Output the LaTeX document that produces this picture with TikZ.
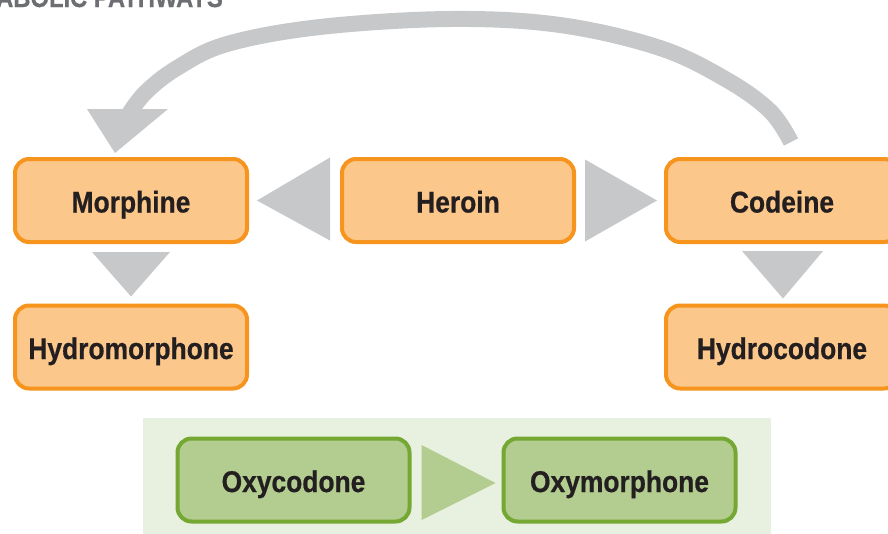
\documentclass[tikz,border=0pt]{standalone}
\usepackage{fontspec}
\setmainfont{Liberation Sans}[FakeStretch=0.88, BoldFeatures={FakeBold=0.6}]
\usetikzlibrary{calc}
\definecolor{orfill}{HTML}{FBC78A}
\definecolor{ordraw}{HTML}{F7941D}
\definecolor{grfill}{HTML}{B3CC8F}
\definecolor{grdraw}{HTML}{75A833}
\definecolor{grbg}{HTML}{E8F0DF}
\definecolor{arrowgrey}{HTML}{C7C8CA}
\definecolor{txt}{HTML}{231F20}
\definecolor{titlegrey}{HTML}{6D6E71}
\begin{document}
\begin{tikzpicture}[x=1pt,y=-1pt,
  box/.style={rectangle, rounded corners=14pt, line width=4pt, minimum width=232pt, minimum height=83pt,
    font=\fontsize{30}{34}\selectfont\bfseries, text=txt, inner sep=0pt, text height=24pt, text depth=0pt},
  orbox/.style={box, draw=ordraw, fill=orfill},
  grbox/.style={box, draw=grdraw, fill=grfill},
  tri/.style={fill=arrowgrey},
  gtri/.style={fill=grfill}]
\useasboundingbox (0,0) rectangle (888,533);
\clip (0,0) rectangle (888,533);
\fill[white] (0,0) rectangle (888,533);
% title (cut off at the top, as in the reference)
\node[anchor=base west, text=titlegrey, font=\fontsize{27}{30}\selectfont\bfseries, inner sep=0pt] (title) at (-4,7) {ABOLIC PATHWAYS};
% green background
\fill[grbg] (143,418) rectangle (771,540);
% boxes
\node[orbox] (morphine) at (131,200.5) {Morphine};
\node[orbox] (heroin) at (458,200.5) {Heroin};
\node[orbox] (codeine) at (782,200.5) {Codeine};
\node[orbox] (hydromorphone) at (131,347) {Hydromorphone};
\node[orbox] (hydrocodone) at (782,347) {Hydrocodone};
\node[grbox] (oxycodone) at (293.5,480) {Oxycodone};
\node[grbox] (oxymorphone) at (619.5,480) {Oxymorphone};
% triangle connectors
\fill[tri] ($(heroin.west)+(-10,-43)$) -- ($(heroin.west)+(-10,40)$) -- ($(morphine.east)+(8,0)$) -- cycle;
\fill[tri] ($(heroin.east)+(9,-41)$) -- ($(heroin.east)+(9,41)$) -- ($(codeine.west)+(-7,0)$) -- cycle;
\fill[tri] ($(morphine.south)+(-39,8)$) -- ($(morphine.south)+(39,8)$) -- ($(hydromorphone.north)+(0,-7)$) -- cycle;
\fill[tri] ($(codeine.south)+(-40,7)$) -- ($(codeine.south)+(41,7)$) -- ($(hydrocodone.north)+(1,-5)$) -- cycle;
\fill[gtri] ($(oxycodone.east)+(10,-35)$) -- ($(oxycodone.east)+(10,40)$) -- ($(oxymorphone.west)+(-6,3)$) -- cycle;
% curved arrow from codeine back to morphine
\coordinate (tip) at ($(morphine.north)+(-16,-4)$);
\draw[arrowgrey, line width=16pt] plot[smooth, tension=0.6] coordinates
  {(791,142) (770,111) (727,80) (660,48) (560,25) (450,19) (320,27) (227,44) (177,68) (145,93) (127,117)};
\fill[tri] (87,109) -- (168,109) -- (tip) -- cycle;
\end{tikzpicture}
\end{document}
